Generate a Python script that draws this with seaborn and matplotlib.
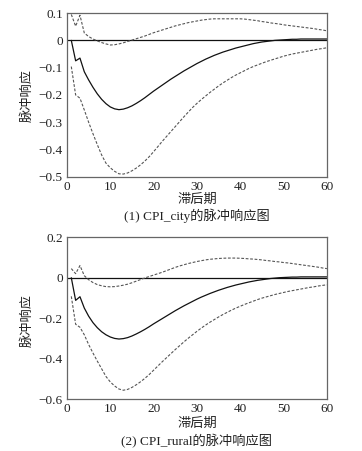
import numpy as np
import pandas as pd
import matplotlib
matplotlib.use("Agg")
import matplotlib.pyplot as plt
import seaborn as sns

lags = list(range(1, 61))

city_irf = [0, -0.075, -0.065, -0.115, -0.145, -0.172, -0.196, -0.216, -0.232, -0.244,
            -0.251, -0.254, -0.252, -0.247, -0.240, -0.231, -0.221, -0.210, -0.198, -0.186,
            -0.175, -0.164, -0.153, -0.142, -0.132, -0.122, -0.112, -0.103, -0.094, -0.085,
            -0.077, -0.069, -0.062, -0.055, -0.049, -0.043, -0.038, -0.033, -0.028, -0.024,
            -0.020, -0.016, -0.012, -0.009, -0.006, -0.004, -0.002, 0.000, 0.001, 0.002,
            0.003, 0.004, 0.004, 0.005, 0.005, 0.005, 0.005, 0.005, 0.005, 0.005]
city_upper = [0.095, 0.052, 0.092, 0.027, 0.014, 0.005, -0.002, -0.008, -0.013, -0.017,
              -0.016, -0.013, -0.009, -0.004, 0.001, 0.006, 0.011, 0.016, 0.022, 0.028,
              0.033, 0.038, 0.043, 0.048, 0.053, 0.057, 0.061, 0.065, 0.068, 0.071,
              0.074, 0.076, 0.078, 0.079, 0.079, 0.079, 0.079, 0.079, 0.079, 0.079,
              0.078, 0.076, 0.074, 0.072, 0.069, 0.067, 0.064, 0.062, 0.060, 0.057,
              0.055, 0.053, 0.051, 0.049, 0.047, 0.045, 0.043, 0.040, 0.038, 0.035]
city_lower = [-0.096, -0.200, -0.212, -0.255, -0.300, -0.342, -0.382, -0.420, -0.450, -0.467,
              -0.480, -0.489, -0.490, -0.486, -0.478, -0.468, -0.456, -0.442, -0.426, -0.408,
              -0.389, -0.370, -0.352, -0.334, -0.316, -0.298, -0.280, -0.263, -0.246, -0.231,
              -0.217, -0.204, -0.191, -0.179, -0.167, -0.156, -0.146, -0.136, -0.127, -0.119,
              -0.111, -0.103, -0.096, -0.090, -0.084, -0.078, -0.073, -0.068, -0.063, -0.058,
              -0.054, -0.050, -0.047, -0.044, -0.041, -0.038, -0.035, -0.032, -0.030, -0.027]

rural_irf = [0, -0.112, -0.094, -0.150, -0.190, -0.222, -0.247, -0.267, -0.282, -0.293,
             -0.300, -0.303, -0.301, -0.296, -0.288, -0.278, -0.267, -0.255, -0.242, -0.228,
             -0.215, -0.202, -0.189, -0.176, -0.163, -0.151, -0.139, -0.128, -0.117, -0.106,
             -0.096, -0.087, -0.078, -0.070, -0.062, -0.055, -0.048, -0.042, -0.036, -0.031,
             -0.026, -0.021, -0.017, -0.013, -0.010, -0.007, -0.004, -0.002, 0.000, 0.001,
             0.002, 0.003, 0.003, 0.004, 0.004, 0.004, 0.004, 0.004, 0.004, 0.004]
rural_upper = [0.045, 0.020, 0.060, 0.010, -0.010, -0.024, -0.034, -0.040, -0.044, -0.045,
               -0.044, -0.041, -0.037, -0.032, -0.025, -0.017, -0.009, -0.001, 0.006, 0.013,
               0.020, 0.027, 0.035, 0.043, 0.051, 0.058, 0.064, 0.070, 0.075, 0.080,
               0.084, 0.088, 0.091, 0.093, 0.095, 0.096, 0.097, 0.097, 0.097, 0.096,
               0.095, 0.093, 0.092, 0.090, 0.088, 0.085, 0.083, 0.080, 0.078, 0.075,
               0.073, 0.070, 0.067, 0.064, 0.061, 0.058, 0.055, 0.052, 0.048, 0.045]
rural_lower = [-0.092, -0.230, -0.245, -0.282, -0.330, -0.372, -0.412, -0.450, -0.488, -0.515,
               -0.535, -0.550, -0.556, -0.552, -0.542, -0.529, -0.514, -0.497, -0.478, -0.457,
               -0.436, -0.415, -0.395, -0.375, -0.355, -0.336, -0.317, -0.299, -0.282, -0.265,
               -0.249, -0.234, -0.220, -0.207, -0.194, -0.182, -0.171, -0.160, -0.150, -0.141,
               -0.132, -0.124, -0.116, -0.108, -0.101, -0.095, -0.089, -0.083, -0.078, -0.073,
               -0.068, -0.064, -0.060, -0.056, -0.052, -0.048, -0.045, -0.041, -0.038, -0.035]

x_ticks = [0, 10, 20, 30, 40, 50, 60]
top_yticks = [0.1, 0, -0.1, -0.2, -0.3, -0.4, -0.5]
top_ylabels = ["0.1", "0", "\u22120.1", "\u22120.2", "\u22120.3", "\u22120.4", "\u22120.5"]
bot_yticks = [0.2, 0, -0.2, -0.4, -0.6]
bot_ylabels = ["0.2", "0", "\u22120.2", "\u22120.4", "\u22120.6"]
xlabel = "滞后期"
ylabel = "脉冲响应"
captions = ["(1) CPI_city的脉冲响应图", "(2) CPI_rural的脉冲响应图"]

sns.set_style("white")
plt.rcParams["font.family"] = ["Liberation Serif", "Noto Sans CJK SC", "DejaVu Sans"]

fig = plt.figure(figsize=(3.62, 4.51), dpi=100)
ax1 = fig.add_axes([0.185, 0.608, 0.718, 0.363])
ax2 = fig.add_axes([0.185, 0.115, 0.718, 0.359])

panels = [
    (ax1, city_irf, city_upper, city_lower, (-0.5, 0.1), top_yticks, top_ylabels, 0.557, 0.521, 0.789),
    (ax2, rural_irf, rural_upper, rural_lower, (-0.6, 0.2), bot_yticks, bot_ylabels, 0.060, 0.022, 0.29),
]

for ax, irf, up, lo, ylim, yt, yl, xly, capy, yly in panels:
    df = pd.DataFrame({"lag": lags, "irf": irf, "upper": up, "lower": lo})
    ax.axhline(0, color="#111111", lw=0.9, zorder=1)
    sns.lineplot(data=df, x="lag", y="upper", ax=ax, color="#555555", lw=0.8,
                 linestyle=(0, (2.5, 1.5)))
    sns.lineplot(data=df, x="lag", y="lower", ax=ax, color="#555555", lw=0.8,
                 linestyle=(0, (2.5, 1.5)))
    sns.lineplot(data=df, x="lag", y="irf", ax=ax, color="#111111", lw=0.9)
    ax.set_xlim(0, 60)
    ax.set_ylim(*ylim)
    ax.set_xticks(x_ticks)
    ax.set_xticklabels([str(t) for t in x_ticks])
    ax.set_yticks(yt)
    ax.set_yticklabels(yl)
    ax.set_xlabel("")
    ax.set_ylabel("")
    ax.tick_params(axis="both", length=0, pad=3, labelsize=9.5, colors="#222222")
    for s in ax.spines.values():
        s.set_color("#666666")
        s.set_linewidth(0.9)
    fig.text(0.544, xly, xlabel, ha="center", va="center", fontsize=9.5, color="#222222")
    fig.text(0.544, capy, ax.get_label() or "", ha="center", va="center")
    fig.text(0.075, yly, ylabel, ha="center", va="center", rotation=90, fontsize=9.5, color="#222222")

fig.text(0.544, 0.521, captions[0], ha="center", va="center", fontsize=9.5, color="#222222")
fig.text(0.544, 0.022, captions[1], ha="center", va="center", fontsize=9.5, color="#222222")

fig.savefig("out.png", dpi=100, facecolor="white")
